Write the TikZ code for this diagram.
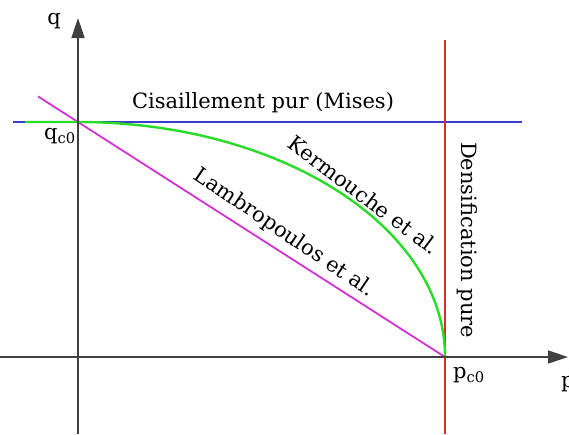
\documentclass[tikz,border=0pt]{standalone}
\usepackage{fontspec}
\setmainfont{DejaVu Serif}
\usetikzlibrary{arrows.meta}
\definecolor{lblue}{RGB}{60,60,210}
\definecolor{lmag}{RGB}{210,50,210}
\definecolor{lgreen}{RGB}{40,220,40}
\definecolor{lred}{RGB}{230,40,40}
\begin{document}
\begin{tikzpicture}[x=1pt,y=-1pt,
  axis/.style={draw=black!75,line width=1.6pt,-{Triangle[length=20pt,width=13pt]}},
  lbl/.style={font=\fontsize{21}{21}\selectfont,inner sep=0pt}]
\useasboundingbox (0,0) rectangle (569,434);
\coordinate (O) at (78,357);
\coordinate (qc) at (78,122);
\coordinate (pc) at (445,357);
\coordinate (xs) at (0,357);
\coordinate (xe) at (568,357);
\coordinate (ys) at (78,434);
\coordinate (ye) at (78,18);
\coordinate (bs) at (13,122);
\coordinate (be) at (522,122);
\coordinate (rs) at (445,40);
\coordinate (re) at (445,434);
\coordinate (ms) at (38,96.4);
\coordinate (gs) at (25,122);
% lines
\draw[lblue,line width=1.2pt] (bs) -- (be);
\draw[lred,line width=1.2pt] (rs) -- (re);
\draw[lmag,line width=1.8pt] (ms) -- (pc);
\draw[lgreen,line width=2.4pt] (gs) -- (qc) arc[start angle=90,end angle=0,x radius=367,y radius=-235];
\draw[axis] (xs) -- (xe);
\draw[axis] (ys) -- (ye);
% labels
\node[lbl] (q) at (54,21) {q};
\node[lbl,anchor=west] (p) at (561,384) {p};
\node[lbl] (qcl) at (60,136) {q\textsubscript{c0}};
\node[lbl] (pcl) at (469,375) {p\textsubscript{c0}};
\node[lbl] (cis) at (263,103) {Cisaillement pur (Mises)};
\node[lbl,rotate=-37] (ker) at (364,195) {Kermouche et al.};
\node[lbl,rotate=-34] (lam) at (284,233) {Lambropoulos et al.};
\node[lbl,rotate=-90] (den) at (467,240) {Densification pure};
\end{tikzpicture}
\end{document}
